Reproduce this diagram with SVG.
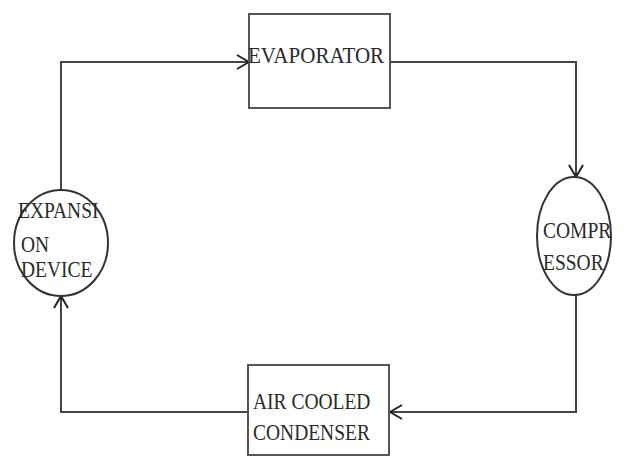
<svg xmlns="http://www.w3.org/2000/svg" width="632" height="457" viewBox="0 0 632 457">
  <style>
    .box { fill: #ffffff; stroke: #555555; stroke-width: 2; }
    .ell { fill: #ffffff; stroke: #333333; stroke-width: 2; }
    .conn { fill: none; stroke: #444444; stroke-width: 2; }
    .lbl { font-family: "Liberation Serif", "Times New Roman", serif; font-size: 19.5px; fill: #2a2a2a; }
  </style>
  <defs>
    <marker id="arr" viewBox="0 0 14 16" refX="13" refY="8" markerWidth="14" markerHeight="16" markerUnits="userSpaceOnUse" orient="auto">
      <path d="M1,1 L13,8 L1,15" fill="none" stroke="#222222" stroke-width="2"/>
    </marker>
  </defs>
  <rect width="632" height="457" fill="#ffffff"/>
  <g id="connectors">
    <polyline class="conn" points="61,190 61,62 249,62" marker-end="url(#arr)"/>
    <polyline class="conn" points="390,62 576,62 576,177" marker-end="url(#arr)"/>
    <polyline class="conn" points="576,295 576,412 390,412" marker-end="url(#arr)"/>
    <polyline class="conn" points="248,412 61,412 61,296" marker-end="url(#arr)"/>
  </g>
  <g id="evaporator">
    <rect class="box" x="249" y="14" width="141" height="94"/>
    <text class="lbl" transform="translate(248,63) scale(1.08,1.15)">EVAPORATOR</text>
  </g>
  <g id="compressor">
    <ellipse class="ell" cx="574" cy="236" rx="37" ry="59"/>
    <text class="lbl" transform="translate(543,238) scale(1,1.2)">COMPR</text>
    <text class="lbl" transform="translate(543,270) scale(1,1.2)">ESSOR</text>
  </g>
  <g id="condenser">
    <rect class="box" x="248" y="365" width="141" height="90"/>
    <text class="lbl" transform="translate(253,409) scale(1,1.2)">AIR COOLED</text>
    <text class="lbl" transform="translate(253,440) scale(1,1.2)">CONDENSER</text>
  </g>
  <g id="expansion-device">
    <ellipse class="ell" cx="61" cy="243" rx="47" ry="53"/>
    <text class="lbl" transform="translate(18,218) scale(1,1.2)">EXPANSI</text>
    <text class="lbl" transform="translate(21,252) scale(1,1.2)">ON</text>
    <text class="lbl" transform="translate(21,277) scale(1,1.2)">DEVICE</text>
  </g>
</svg>
